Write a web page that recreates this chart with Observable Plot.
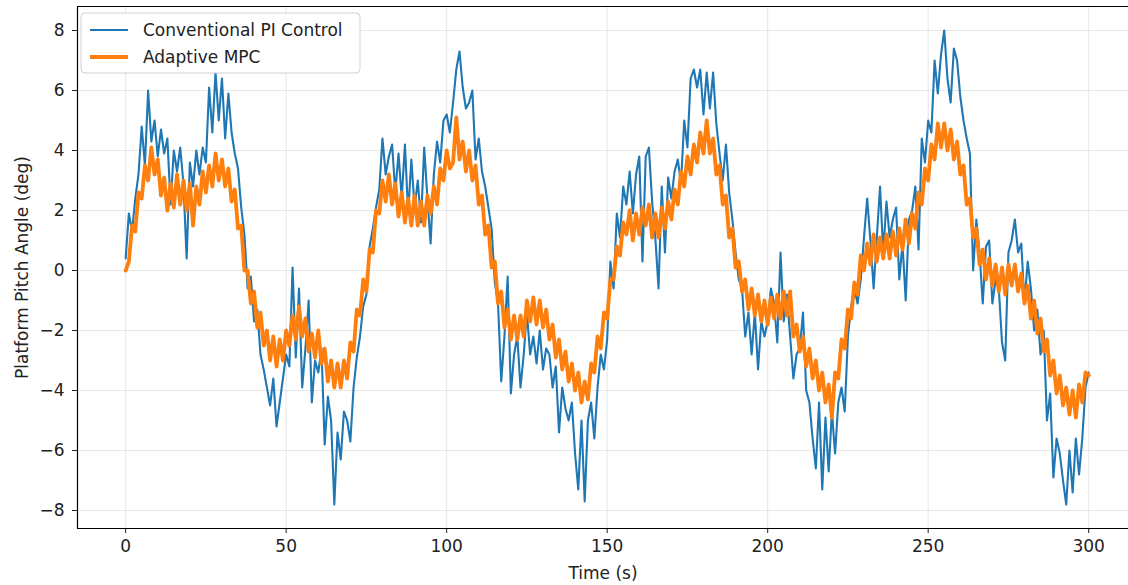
<!DOCTYPE html>
<html>
<head>
<meta charset="utf-8">
<script src="https://cdn.jsdelivr.net/npm/d3@7"></script>
<script src="https://cdn.jsdelivr.net/npm/@observablehq/plot@0.6"></script>
<style>
  html, body { margin: 0; padding: 0; background: #fff; }
  #chart { width: 1128px; height: 585px; }
  svg { font-family: "DejaVu Sans", sans-serif; }
</style>
</head>
<body>
<div id="chart"></div>
<script>
// Sampling times (s)
const times = d3.range(0, 301, 1);

// Conventional PI Control (deg), one sample per second
const piControl = [
  0.4, 1.9, 1.3, 2.4, 3.2, 4.8, 3.5, 6.0, 4.3, 5.0,
  3.8, 4.7, 3.9, 4.4, 2.2, 4.0, 3.3, 4.1, 2.9, 0.4,
  3.6, 2.8, 4.0, 3.2, 4.1, 3.6, 6.1, 4.6, 6.6, 5.0,
  6.4, 4.4, 5.9, 4.6, 3.9, 3.4, 2.1, 1.2, -0.6, -0.2,
  -1.7, -1.3, -2.8, -3.3, -3.9, -4.5, -3.6, -5.2, -4.4, -3.6,
  -2.8, -3.2, 0.1, -2.9, -0.6, -3.9, -2.6, -1.0, -4.4, -3.0,
  -3.4, -2.6, -5.8, -4.2, -5.0, -7.8, -5.4, -6.3, -4.7, -5.0,
  -5.7, -3.9, -2.9, -2.2, -1.2, -0.8, 0.8, 1.4, 2.1, 2.7,
  4.4, 3.2, 3.8, 4.2, 2.6, 3.9, 2.4, 4.2, 1.9, 3.7,
  2.1, 3.0, 1.6, 4.1, 2.4, 0.9, 3.2, 4.3, 3.6, 5.0,
  5.2, 4.6, 5.6, 6.7, 7.3, 6.1, 5.4, 5.6, 6.0, 3.7,
  4.4, 3.3, 2.8, 2.1, 1.4, -0.4, -1.1, -3.7, -2.2, -0.2,
  -4.1, -2.8, -2.2, -3.9, -2.8, -1.4, -2.8, -2.2, -3.1, -2.0,
  -3.3, -2.6, -2.8, -3.9, -3.2, -5.4, -3.9, -4.6, -5.0, -4.4,
  -6.1, -7.3, -5.0, -7.7, -5.0, -4.4, -5.6, -3.9, -2.8, -3.3,
  -2.3, 0.3, -0.6, 1.9, 1.1, 2.8, 2.2, 3.3, 1.9, 3.2,
  3.8, 0.3, 3.8, 4.1, 2.3, 1.1, -0.6, 2.8, 0.6, 3.1,
  2.4, 3.3, 3.7, 2.9, 5.0, 4.1, 6.4, 6.7, 6.1, 6.7,
  5.2, 6.6, 5.4, 6.6, 4.9, 3.9, 3.0, 4.2, 2.6, 1.7,
  0.6, -0.3, -0.6, -2.2, -1.4, -2.8, -1.4, -3.3, -1.7, -2.2,
  -1.7, -0.6, -1.1, -2.4, 0.6, -1.7, -0.8, -2.2, -3.6, -2.8,
  -2.6, -1.4, -4.0, -4.4, -5.6, -6.6, -4.4, -7.3, -4.9, -6.7,
  -4.7, -6.1, -4.4, -3.9, -4.7, -2.2, -1.2, -0.6, -1.1, -0.3,
  1.1, 2.4, 1.0, -0.6, 1.1, 2.8, 0.6, 2.3, 1.1, 1.7,
  2.1, -0.3, 0.9, -1.0, 1.7, 2.0, 2.8, 0.7, 4.4, 3.6,
  5.0, 4.6, 7.0, 5.9, 7.2, 8.0, 6.4, 5.6, 7.4, 7.0,
  5.8, 5.0, 4.4, 3.9, 0.0, 1.7, 0.6, -1.1, 0.8, 1.0,
  -1.1, -0.3, -0.6, -2.4, -3.0, 0.6, 1.0, 1.7, 0.6, 0.9,
  -1.1, 0.3, -0.6, -2.0, -1.3, -2.8, -2.0, -5.0, -4.1, -6.9,
  -5.6, -6.1, -7.0, -7.8, -6.0, -7.4, -5.6, -6.8, -5.6, -3.9,
  -3.4
];

// Adaptive MPC (deg), one sample per second
const adaptiveMpc = [
  0.0, 0.3, 1.5, 1.3, 2.6, 2.4, 3.5, 3.0, 4.1, 3.2,
  3.7, 2.5, 3.1, 2.0, 2.9, 2.1, 3.2, 2.2, 3.0, 2.0,
  2.9, 1.5, 2.8, 2.2, 3.3, 2.6, 3.5, 2.8, 3.9, 3.0,
  3.7, 2.8, 3.4, 2.3, 2.7, 1.4, 1.5, 0.0, 0.0, -1.1,
  -0.7, -1.9, -1.4, -2.5, -2.0, -3.0, -2.2, -3.2, -2.3, -3.0,
  -2.0, -2.5, -1.5, -2.3, -1.2, -2.2, -1.6, -2.7, -2.1, -2.9,
  -2.0, -3.1, -2.6, -3.7, -3.0, -3.9, -3.1, -3.9, -3.0, -3.6,
  -2.4, -2.7, -1.3, -1.5, -0.3, -0.7, 0.7, 0.6, 2.0, 1.9,
  3.0, 2.3, 3.2, 2.2, 2.9, 1.8, 2.6, 1.6, 2.4, 1.5,
  2.5, 1.5, 2.3, 1.5, 2.5, 1.9, 2.8, 2.2, 3.4, 3.0,
  4.0, 3.4, 3.6, 5.1, 3.7, 4.3, 3.3, 4.0, 3.0, 3.5,
  2.2, 2.5, 1.2, 1.5, 0.1, 0.3, -1.1, -0.7, -1.9, -1.3,
  -2.3, -1.5, -2.3, -1.5, -2.2, -1.0, -1.7, -0.9, -1.8, -1.0,
  -1.9, -1.3, -2.3, -1.8, -2.9, -2.3, -3.3, -2.7, -3.7, -3.1,
  -4.0, -3.4, -4.4, -3.7, -4.3, -3.1, -3.4, -2.2, -2.6, -1.4,
  -1.6, -0.3, -0.3, 0.8, 0.5, 1.6, 1.2, 2.0, 1.0, 1.9,
  1.2, 2.1, 1.5, 2.2, 1.1, 1.9, 1.1, 2.1, 1.4, 2.3,
  1.7, 2.7, 2.2, 3.3, 2.8, 3.8, 3.2, 4.2, 3.6, 4.6,
  3.9, 5.0, 3.9, 4.4, 3.2, 3.5, 2.2, 2.5, 1.1, 1.4,
  0.1, 0.3, -0.7, -0.3, -1.3, -0.6, -1.5, -0.8, -1.7, -1.0,
  -1.8, -0.9, -1.6, -0.8, -1.6, -0.7, -1.5, -0.7, -2.2, -1.8,
  -2.7, -2.2, -3.2, -2.6, -3.6, -3.0, -4.0, -3.4, -4.4, -3.8,
  -4.9, -3.4, -3.6, -2.3, -2.6, -1.3, -1.6, -0.4, -0.8, 0.5,
  0.0, 0.9, 0.2, 1.2, 0.3, 1.1, 0.4, 1.2, 0.4, 1.3,
  0.5, 1.4, 0.7, 1.7, 0.9, 1.9, 1.4, 2.6, 2.2, 3.4,
  3.0, 4.2, 3.7, 4.9, 4.1, 4.9, 4.0, 4.7, 3.7, 4.3,
  3.2, 3.5, 2.2, 2.4, 1.1, 1.4, 0.2, 0.7, -0.3, 0.4,
  -0.5, 0.2, -0.7, 0.1, -0.8, 0.2, -0.5, 0.2, -0.7, -0.1,
  -1.1, -0.5, -1.6, -1.0, -2.1, -1.6, -2.7, -2.3, -3.5, -3.0,
  -4.1, -3.5, -4.5, -3.9, -4.8, -4.0, -4.9, -3.8, -4.4, -3.4,
  -3.5
];

const seriesNames = ["Conventional PI Control", "Adaptive MPC"];
const seriesColors = ["#1f77b4", "#ff7f0e"];
const seriesWidths = [2.1, 3.8];
const xTicks = [0, 50, 100, 150, 200, 250, 300];
const yTicks = [-8, -6, -4, -2, 0, 2, 4, 6, 8];

const piData = times.map((t, i) => ({t, v: piControl[i]}));
const mpcData = times.map((t, i) => ({t, v: adaptiveMpc[i]}));

const xDomain = [-15, 312.4];
const yDomain = [-8.6, 8.8];
const fontSize = 17;

const chart = Plot.plot({
  width: 1128,
  height: 585,
  marginLeft: 77,
  marginRight: 0,
  marginTop: 6,
  marginBottom: 57,
  style: {fontFamily: "DejaVu Sans, sans-serif", fontSize: fontSize + "px", background: "#fff", color: "#222"},
  x: {domain: xDomain},
  y: {domain: yDomain},
  marks: [
    Plot.gridX(xTicks, {stroke: "#b0b0b0", strokeOpacity: 0.3, strokeWidth: 1}),
    Plot.gridY(yTicks, {stroke: "#b0b0b0", strokeOpacity: 0.3, strokeWidth: 1}),
    Plot.line(piData, {x: "t", y: "v", stroke: seriesColors[0], strokeWidth: seriesWidths[0]}),
    Plot.line(mpcData, {x: "t", y: "v", stroke: seriesColors[1], strokeWidth: seriesWidths[1]}),
    Plot.axisX(xTicks, {tickSize: 5, tickPadding: 6, label: "Time (s)", labelAnchor: "center", labelArrow: "none", labelOffset: 50, fontSize: fontSize}),
    Plot.axisY(yTicks, {tickSize: 5, tickPadding: 8, label: "Platform Pitch Angle (deg)", labelAnchor: "center", labelArrow: "none", labelOffset: 62, fontSize: fontSize}),
    Plot.ruleX([xDomain[0]], {stroke: "#000", strokeWidth: 1.2}),
    Plot.ruleY([yDomain[0], yDomain[1]], {stroke: "#000", strokeWidth: 1.2})
  ]
});

document.getElementById("chart").appendChild(chart);

// Legend (inside the axes, upper left)
const svg = d3.select(chart);
const lg = svg.append("g").attr("transform", "translate(81,13)");
lg.append("rect").attr("width", 279).attr("height", 60).attr("rx", 4)
  .attr("fill", "#fff").attr("fill-opacity", 0.85).attr("stroke", "#d0d0d0");
seriesNames.forEach((name, i) => {
  const y = 17 + i * 27;
  lg.append("line").attr("x1", 9).attr("x2", 47).attr("y1", y).attr("y2", y)
    .attr("stroke", seriesColors[i]).attr("stroke-width", seriesWidths[i]);
  lg.append("text").attr("x", 62).attr("y", y).attr("dy", "0.35em")
    .attr("text-anchor", "start")
    .attr("font-size", fontSize).attr("fill", "#222").text(name);
});
</script>
</body>
</html>
